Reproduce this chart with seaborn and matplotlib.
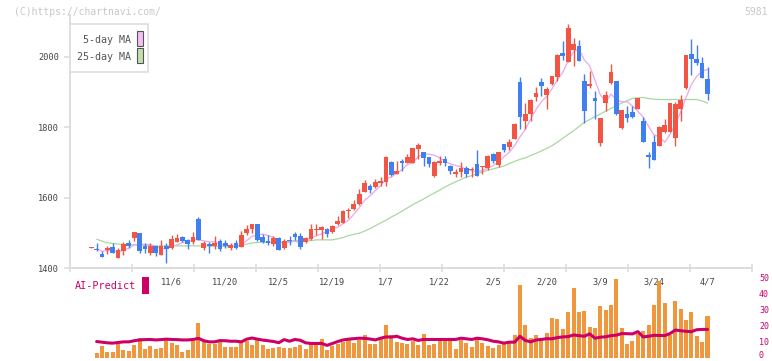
import numpy as np
import pandas as pd
import matplotlib
matplotlib.use("Agg")
import matplotlib.pyplot as plt
from matplotlib.patches import Rectangle
import seaborn as sns

# ---------------- data ----------------
opens = [1458, 1453, 1440, 1452, 1460, 1429, 1449, 1471, 1486, 1500,
         1463, 1443, 1463, 1437, 1463, 1458, 1475, 1488, 1480, 1473,
         1539, 1458, 1469, 1463, 1476, 1470, 1456, 1470, 1459, 1500,
         1510, 1525, 1487, 1477, 1468, 1485, 1457, 1480, 1497, 1491,
         1474, 1482, 1509, 1509, 1511, 1502, 1525, 1529, 1563, 1568,
         1582, 1617, 1632, 1631, 1643, 1645, 1701, 1668, 1704, 1699,
         1699, 1739, 1730, 1716, 1662, 1699, 1710, 1691, 1668, 1674,
         1684, 1678, 1696, 1687, 1685, 1723, 1694, 1753, 1745, 1767,
         1929, 1819, 1839, 1887, 1929, 1893, 1924, 1944, 2010, 1987,
         2021, 2031, 1932, 1918, 1882, 1756, 1868, 1927, 1932, 1799,
         1838, 1844, 1853, 1818, 1720, 1757, 1746, 1788, 1788, 1770,
         1853, 1911, 2008, 1994, 1983, 1937]
highs = [1460, 1470, 1449, 1463, 1471, 1456, 1474, 1479, 1503, 1500,
         1470, 1472, 1463, 1480, 1471, 1494, 1497, 1491, 1483, 1502,
         1545, 1478, 1474, 1491, 1482, 1479, 1470, 1480, 1505, 1521,
         1525, 1525, 1496, 1493, 1491, 1488, 1482, 1491, 1502, 1500,
         1488, 1525, 1525, 1519, 1514, 1522, 1548, 1566, 1570, 1593,
         1625, 1650, 1639, 1652, 1660, 1718, 1704, 1704, 1709, 1724,
         1742, 1755, 1730, 1716, 1705, 1718, 1718, 1694, 1682, 1701,
         1691, 1686, 1736, 1691, 1720, 1728, 1730, 1753, 1766, 1813,
         1944, 1869, 1881, 1915, 1941, 1915, 1946, 2008, 2045, 2094,
         2055, 2048, 1953, 1960, 1903, 1826, 1903, 1981, 1932, 1849,
         1861, 1861, 1883, 1828, 1730, 1777, 1805, 1824, 1870, 1873,
         1891, 2006, 2051, 2034, 2000, 1972]
lows = [1456, 1449, 1432, 1440, 1443, 1429, 1437, 1456, 1478, 1443,
        1443, 1437, 1435, 1437, 1415, 1455, 1474, 1474, 1454, 1468,
        1480, 1452, 1443, 1455, 1449, 1457, 1451, 1455, 1459, 1495,
        1500, 1478, 1471, 1466, 1463, 1452, 1455, 1466, 1480, 1455,
        1471, 1480, 1494, 1483, 1489, 1500, 1522, 1528, 1543, 1565,
        1580, 1615, 1612, 1628, 1634, 1634, 1661, 1668, 1676, 1699,
        1699, 1711, 1691, 1688, 1660, 1694, 1691, 1668, 1660, 1660,
        1660, 1660, 1662, 1666, 1680, 1699, 1688, 1729, 1735, 1767,
        1795, 1795, 1819, 1875, 1889, 1852, 1920, 1932, 1991, 1985,
        1975, 1989, 1811, 1911, 1823, 1748, 1846, 1924, 1836, 1796,
        1816, 1827, 1853, 1759, 1683, 1706, 1746, 1784, 1788, 1748,
        1819, 1908, 1950, 1978, 1941, 1878]
closes = [1459, 1451, 1432, 1458, 1443, 1451, 1468, 1463, 1502, 1449,
          1455, 1463, 1443, 1463, 1454, 1482, 1486, 1478, 1468, 1488,
          1480, 1472, 1463, 1471, 1453, 1463, 1465, 1457, 1493, 1511,
          1525, 1480, 1474, 1472, 1486, 1452, 1477, 1478, 1488, 1461,
          1485, 1511, 1512, 1517, 1497, 1519, 1534, 1563, 1566, 1582,
          1610, 1642, 1623, 1644, 1646, 1716, 1664, 1676, 1698, 1716,
          1742, 1750, 1714, 1696, 1702, 1705, 1699, 1677, 1674, 1684,
          1668, 1681, 1662, 1691, 1718, 1705, 1730, 1736, 1758, 1810,
          1830, 1838, 1879, 1898, 1918, 1909, 1946, 2006, 2004, 2082,
          2036, 1989, 1847, 1923, 1876, 1826, 1892, 1957, 1839, 1849,
          1827, 1830, 1883, 1759, 1716, 1706, 1800, 1807, 1868, 1866,
          1877, 2006, 1993, 1984, 1941, 1896]

ma25 = [np.nan, 1482, 1476, 1472, 1470, 1468, 1467, 1466, 1466, 1465,
        1465, 1464, 1463, 1463, 1463, 1463, 1463, 1463, 1463, 1463,
        1463, 1463, 1462, 1462, 1462, 1461, 1461, 1461, 1464, 1468,
        1471, 1473, 1473, 1473, 1473, 1473, 1473, 1476, 1478, 1478,
        1478, 1478, 1480, 1480, 1480, 1480, 1483, 1487, 1492, 1496,
        1499, 1505, 1512, 1520, 1528, 1536, 1545, 1553, 1562, 1571,
        1580, 1588, 1596, 1605, 1613, 1621, 1630, 1638, 1645, 1652,
        1658, 1663, 1668, 1673, 1678, 1682, 1686, 1690, 1697, 1703,
        1709, 1713, 1720, 1726, 1733, 1740, 1748, 1758, 1769, 1780,
        1790, 1802, 1814, 1822, 1830, 1838, 1846, 1854, 1862, 1869,
        1876, 1882, 1884, 1885, 1882, 1880, 1879, 1879, 1879, 1879,
        1879, 1879, 1879, 1879, 1875, 1869]

volume = [3.1, 7.4, 3.7, 3.7, 8.2, 4.9, 4.3, 8.0, 12.1, 5.5,
          7.4, 5.5, 6.1, 11.7, 9.2, 8.0, 3.7, 4.9, 11.1, 21.5,
          10.5, 8.6, 8.6, 9.8, 6.8, 6.8, 6.8, 9.8, 10.5, 8.0,
          12.1, 8.0, 5.5, 6.1, 6.8, 6.1, 6.1, 6.8, 8.0, 5.5,
          8.6, 8.6, 11.7, 4.9, 7.4, 8.6, 9.8, 11.1, 9.2, 11.1,
          14.1, 8.6, 8.6, 12.9, 20.3, 14.0, 9.8, 9.2, 8.6, 10.5,
          8.0, 14.8, 8.0, 8.6, 10.5, 10.5, 10.5, 5.5, 11.1, 9.2,
          6.8, 11.7, 9.2, 7.4, 6.1, 8.0, 8.6, 9.8, 14.1, 45.5,
          20.3, 12.3, 14.1, 11.7, 15.4, 24.6, 24.0, 17.8, 28.3, 43.6,
          28.3, 28.9, 19.1, 18.4, 32.0, 29.5, 33.2, 49.2, 18.4, 8.6,
          10.5, 14.8, 16.6, 20.3, 32.6, 48.0, 34.4, 14.1, 35.7, 30.7,
          23.4, 28.3, 13.5, 9.8, 25.8]

ai_predict = [10.0, 9.6, 9.2, 9.0, 9.4, 9.8, 9.8, 10.5, 11.0, 11.2,
              11.3, 11.0, 11.2, 11.5, 11.3, 11.2, 11.0, 11.0, 11.3, 12.0,
              10.5, 9.8, 9.8, 10.6, 10.5, 10.2, 10.2, 9.8, 11.5, 12.2,
              11.5, 10.9, 10.5, 10.0, 9.3, 11.2, 10.2, 11.3, 10.8, 9.2,
              8.8, 8.8, 8.8, 7.6, 8.8, 10.0, 11.0, 11.5, 11.8, 12.1,
              12.0, 11.6, 11.0, 12.1, 12.9, 12.8, 13.3, 12.1, 11.3, 11.7,
              10.7, 11.3, 11.3, 11.3, 11.3, 11.3, 11.3, 11.3, 12.1, 11.7,
              11.3, 12.1, 11.7, 11.1, 10.2, 9.8, 9.0, 9.6, 9.6, 13.3,
              10.7, 9.8, 11.0, 11.3, 11.8, 11.7, 12.5, 12.9, 13.1, 14.1,
              13.7, 13.3, 14.8, 12.1, 12.7, 13.0, 13.7, 14.0, 15.0, 14.9,
              14.8, 16.2, 12.9, 13.3, 13.9, 13.8, 13.7, 15.0, 17.2, 16.8,
              16.4, 16.2, 17.4, 17.6, 17.6]

date_labels = ["11/6", "11/20", "12/5", "12/19", "1/7", "1/22",
               "2/5", "2/20", "3/9", "3/24", "4/7"]
label_index = [15, 25, 35, 45, 55, 65, 75, 85, 95, 105, 115]
price_ticks = [1400, 1600, 1800, 2000]
ai_ticks = [0, 10, 20, 30, 40, 50]

# ---------------- style ----------------
sns.set_theme(style="white")
plt.rcParams['font.family'] = ['DejaVu Sans Mono', 'DejaVu Sans']

W, H = 772, 361
fig = plt.figure(figsize=(W / 100, H / 100), dpi=100)


def fx(px):
    return px / W


def fy(py):
    return 1 - py / H


n = len(closes)
idx = np.arange(n)
df = pd.DataFrame({"i": idx, "open": opens, "high": highs, "low": lows,
                   "close": closes, "ma25": ma25})
df["ma5"] = df["close"].rolling(5, min_periods=1).mean()
df.loc[0, "ma5"] = np.nan

dx = (707.5 - 91.3) / 115
xl = -(91.3 - 70) / dx
xr = 115 + (752 - 707.5) / dx

# ---------------- main price axes ----------------
ax = fig.add_axes([fx(70), fy(268), fx(752) - fx(70), fy(15) - fy(268)])
ax.set_facecolor("white")

sns.lineplot(data=df, x="i", y="ma25", color="#a9d89f", lw=0.9, ax=ax,
             legend=False, zorder=1)
sns.lineplot(data=df, x="i", y="ma5", color="#eaa8ea", lw=0.9, ax=ax,
             legend=False, zorder=1)

up = df["close"] >= df["open"]
red, blue = "#f25543", "#3f7ff0"
colors = np.where(up, red, blue)
body_bottom = np.minimum(df["open"], df["close"])
body_h = np.maximum(np.abs(df["close"] - df["open"]), 3)
ax.vlines(df["i"], df["low"], df["high"], colors=colors, lw=1.0, zorder=2)
ax.bar(df["i"], body_h, bottom=body_bottom, width=0.88, color=colors,
       linewidth=0, zorder=3)

ax.set_xlim(xl, xr)
ax.set_ylim(1400, 1400 + 253 / 0.3517)
ax.set_yticks(price_ticks)
ax.set_yticklabels([str(t) for t in price_ticks])
ax.set_xticks(label_index)
ax.set_xticklabels(date_labels)
ax.set_xticks([xl + 62 * k / dx for k in range(12)], minor=True)
ax.tick_params(axis="y", which="major", direction="out", length=4,
               width=1.2, color="#dddddd", labelsize=6.2,
               labelcolor="#444444", pad=4, left=True)
ax.tick_params(axis="x", which="major", length=0, labelsize=6.2,
               labelcolor="#444444", pad=7, bottom=True)
ax.tick_params(axis="x", which="minor", direction="inout", length=6,
               width=1.2, color="#dddddd", bottom=True)
for s in ["top", "right"]:
    ax.spines[s].set_visible(False)
for s in ["left", "bottom"]:
    ax.spines[s].set_color("#dddddd")
    ax.spines[s].set_linewidth(1.4)
ax.set_xlabel("")
ax.set_ylabel("")
ax.grid(False)

# ---------------- AI-Predict panel ----------------
ax2 = fig.add_axes([fx(70), fy(357.5), fx(752) - fx(70), fy(277.7) - fy(357.5)])
ax2.set_facecolor("none")
vdf = pd.DataFrame({"i": np.arange(1, n), "vol": volume, "ai": ai_predict})
sns.barplot(data=vdf, x="i", y="vol", native_scale=True, color="#f0963c",
            saturation=1, width=0.75, linewidth=0, errorbar=None, ax=ax2,
            zorder=1)
sns.lineplot(data=vdf, x="i", y="ai", color="#cc0066", lw=2.2, ax=ax2,
             legend=False, zorder=2)
ax2.set_xlim(xl, xr)
ax2.set_ylim(0, 50)
ax2.set_xticks([])
ax2.yaxis.tick_right()
ax2.set_yticks(ai_ticks)
ax2.set_yticklabels([str(t) for t in ai_ticks])
ax2.tick_params(axis="y", length=0, labelsize=6.0, labelcolor="#cc0066",
                pad=5)
ax2.get_yticklabels()[0].set_verticalalignment("baseline")
for s in ax2.spines.values():
    s.set_visible(False)
ax2.set_xlabel("")
ax2.set_ylabel("")
ax2.grid(False)

# ---------------- legend, captions ----------------
fig.patches.append(Rectangle((fx(70), fy(72)), fx(148) - fx(70),
                             fy(24) - fy(72), transform=fig.transFigure,
                             facecolor="white", edgecolor="#dddddd",
                             lw=1.2, zorder=5))
fig.text(fx(131), fy(40), "5-day MA", ha="right", va="center",
         fontsize=7.2, color="#555555", zorder=6)
fig.text(fx(131), fy(57), "25-day MA", ha="right", va="center",
         fontsize=7.2, color="#555555", zorder=6)
fig.patches.append(Rectangle((fx(136.5), fy(46)), fx(6), fy(0) - fy(15),
                             transform=fig.transFigure, facecolor="#f0c0f0",
                             edgecolor="#555555", lw=0.8, zorder=6))
fig.patches.append(Rectangle((fx(136.5), fy(63)), fx(6), fy(0) - fy(15),
                             transform=fig.transFigure, facecolor="#c0e0b0",
                             edgecolor="#555555", lw=0.8, zorder=6))

fig.text(fx(14), fy(12), "(C)https://chartnavi.com/", ha="left",
         va="center", fontsize=7.0, color="#c8c8c8")
fig.text(fx(768), fy(12), "5981", ha="right", va="center", fontsize=7.0,
         color="#c8c8c8")

fig.text(fx(75), fy(286), "AI-Predict", ha="left", va="center",
         fontsize=7.3, color="#cc0066")
fig.patches.append(Rectangle((fx(142), fy(294)), fx(7), fy(0) - fy(17),
                             transform=fig.transFigure, facecolor="#cc0066",
                             edgecolor="none", zorder=6))

fig.savefig("out.png", dpi=100)
